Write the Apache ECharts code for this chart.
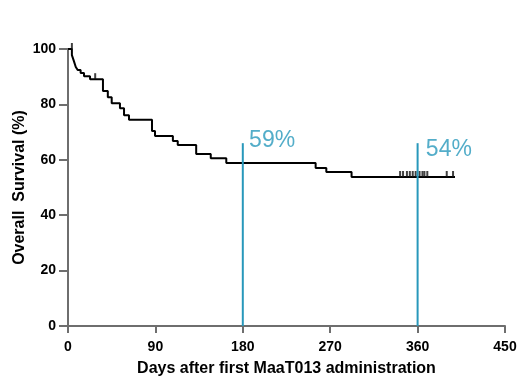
<!DOCTYPE html>
<html>
<head>
<meta charset="utf-8">
<script src="https://cdn.jsdelivr.net/npm/echarts@6/dist/echarts.min.js"></script>
<style>
  html, body { margin: 0; padding: 0; background: #fff; }
  #main { width: 517px; height: 377px; }
</style>
</head>
<body>
<div id="main"></div>
<script>
var chart = echarts.init(document.getElementById("main"))

// Kaplan-Meier steps: [day, survival %]
var kmDays = [0, 4, 6, 8, 10, 13, 16.5, 22.7, 36, 41, 45, 53.5, 57.7, 62.8, 86.5, 89.6, 108, 113, 132, 147, 163, 255, 266, 292, 398.5]
var kmSurv = [100, 97.8, 95.7, 93.5, 92.4, 91.3, 90.2, 89.1, 84.8, 82.6, 80.4, 78.6, 76.1, 74.5, 70.4, 68.6, 66.8, 65.3, 62.1, 60.6, 58.8, 57.0, 55.6, 53.8, 53.8]

// censored patients
var censorDays = [4, 28, 342, 345, 349, 352, 355, 358, 362, 365, 367, 370, 390, 396.5]
var censorSurv = [100, 89.1, 53.8, 53.8, 53.8, 53.8, 53.8, 53.8, 53.8, 53.8, 53.8, 53.8, 53.8, 53.8]

// landmark lines
var markDays = [180, 360]
var markTop = 66
var markLabels = ["59%", "54%"]
var labelDays = [186.5, 368.5]
var labelSurv = [62.8, 59.6]

var xTicks = [0, 90, 180, 270, 360, 450]

var teal = "#2898bb"
var font = "Liberation Sans, Arial, sans-serif"

var kmData = []
for (i = 0; i < kmDays.length; i++) {
  kmData.push([kmDays[i], kmSurv[i]])
}
var censorData = []
for (i = 0; i < censorDays.length; i++) {
  censorData.push([censorDays[i], censorSurv[i]])
}
var labelData = []
for (i = 0; i < markLabels.length; i++) {
  labelData.push([labelDays[i], labelSurv[i], markLabels[i]])
}

var series = [
  {
    name: "KM",
    type: "line",
    step: "end",
    data: kmData,
    showSymbol: false,
    symbol: "none",
    lineStyle: { color: "#000", width: 2 },
    z: 3
  },
  {
    name: "censor",
    type: "scatter",
    data: censorData,
    symbol: "rect",
    symbolSize: [2, 6],
    symbolOffset: [0, -3],
    itemStyle: { color: "#111" },
    z: 3
  },
  {
    name: "labels",
    type: "scatter",
    data: labelData,
    symbolSize: 0,
    label: {
      show: true,
      formatter: function (p) { return p.data[2] },
      position: [0, 0],
      align: "left",
      verticalAlign: "bottom",
      color: teal,
      fontSize: 23,
      fontFamily: font
    },
    z: 5
  }
]
for (i = 0; i < markDays.length; i++) {
  series.push({
    type: "line",
    data: [[markDays[i], 0], [markDays[i], markTop]],
    symbol: "none",
    lineStyle: { color: teal, width: 2 },
    z: 4
  })
}

option = {
  animation: false,
  grid: { left: 68, right: 12, top: 49, bottom: 51, containLabel: false, outerBoundsMode: "none" },
  xAxis: {
    type: "value",
    min: 0,
    max: 450,
    interval: 90,
    name: "Days after first MaaT013 administration",
    nameLocation: "middle",
    nameGap: 35,
    nameMoveOverlap: false,
    nameTextStyle: { fontSize: 16, fontWeight: "bold", color: "#000", fontFamily: font },
    axisLine: { lineStyle: { color: "#6e6e6e", width: 2 } },
    axisTick: { length: 7, lineStyle: { color: "#6e6e6e", width: 2 } },
    axisLabel: {
      fontSize: 14, fontWeight: "bold", color: "#000", margin: 14,
      fontFamily: font,
      formatter: function (v) { return xTicks.indexOf(v) >= 0 ? String(v) : "" }
    },
    splitLine: { show: false }
  },
  yAxis: {
    type: "value",
    min: 0,
    max: 100,
    interval: 20,
    name: "Overall  Survival (%)",
    nameLocation: "middle",
    nameGap: 40,
    nameMoveOverlap: false,
    nameTextStyle: { fontSize: 16, fontWeight: "bold", color: "#000", fontFamily: font },
    axisLine: { show: true, lineStyle: { color: "#6e6e6e", width: 2 } },
    axisTick: { show: true, length: 9, lineStyle: { color: "#6e6e6e", width: 2 } },
    axisLabel: { fontSize: 14, fontWeight: "bold", color: "#000", margin: 12, fontFamily: font },
    splitLine: { show: false }
  },
  series: series
}

chart.setOption(option)
</script>
</body>
</html>
